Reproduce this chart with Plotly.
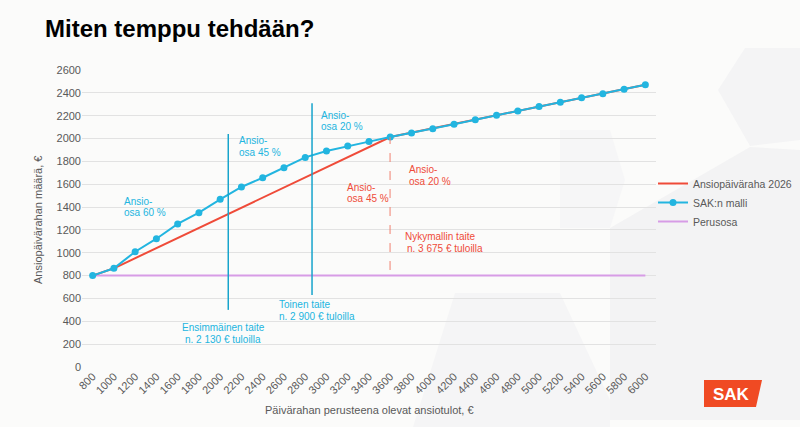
import plotly.graph_objects as go

# ---------------- data ----------------
income = [800, 1000, 1200, 1400, 1600, 1800, 2000, 2200, 2400, 2600, 2800, 3000, 3200,
          3400, 3600, 3800, 4000, 4200, 4400, 4600, 4800, 5000, 5200, 5400, 5600, 5800, 6000]
sak_model = [800, 864, 1009, 1123, 1252, 1351, 1468, 1576, 1657, 1745, 1835, 1891, 1935,
             1973, 2013, 2049, 2086, 2125, 2165, 2203, 2242, 2280, 2318, 2356, 2393, 2431, 2471]
current_x = [800, 1000, 3600, 6000]
current_y = [800, 864, 2013, 2471]
basic_x = [800, 6000]
basic_y = [800, 800]

# break point markers (x, y_bottom, y_top)
sak_breaks = [(2076, 500, 2040), (2864, 630, 2308)]
current_break = (3598, 849, 2013)

tick_vals = list(range(800, 6001, 200))
y_ticks = list(range(0, 2601, 200))

FONT = "Liberation Sans"
GRAY = "#595959"
BLUE = "#22b5e0"
BLUE_DARK = "#17a4cc"
RED = "#ef4b39"
PURPLE = "#d79ce6"

# plot area in pixels (for decorative paper shapes)
L, R, T, B = 82, 656, 70, 367
W, H = 800, 427


def px(x):
    return (x - L) / (R - L)


def py(y):
    return (B - y) / (B - T)


fig = go.Figure()

fig.add_trace(go.Scatter(x=basic_x, y=basic_y, mode="lines", name="Perusosa",
                         line=dict(color=PURPLE, width=2), legendrank=3))
fig.add_trace(go.Scatter(x=current_x, y=current_y, mode="lines", name="Ansiopäiväraha 2026",
                         line=dict(color=RED, width=2), legendrank=1))
fig.add_trace(go.Scatter(x=income, y=sak_model, mode="lines+markers", name="SAK:n malli",
                         line=dict(color=BLUE, width=2),
                         marker=dict(color=BLUE, size=7), legendrank=2))

shapes = []


def poly(points, color):
    path = "M " + " L ".join(f"{px(a):.4f},{py(b):.4f}" for a, b in points) + " Z"
    return dict(type="path", xref="paper", yref="paper", path=path,
                fillcolor=color, line=dict(width=0), layer="below")


# decorative background polygons
shapes.append(poly([(745, 48), (800, 48), (800, 140), (750, 146), (718, 90)], "#f4f4f5"))
shapes.append(poly([(610, 228), (750, 147), (800, 150), (800, 420), (610, 420)], "#f3f3f4"))
shapes.append(poly([(560, 130), (610, 130), (625, 180), (610, 228), (560, 228)], "#f6f6f7"))
shapes.append(poly([(413, 427), (455, 293), (560, 293), (610, 400), (610, 427)], "#f5f5f6"))

for xb, y0, y1 in sak_breaks:
    shapes.append(dict(type="line", xref="x", yref="y", x0=xb, x1=xb, y0=y0, y1=y1,
                       line=dict(color=BLUE_DARK, width=1.5)))
xb, y0, y1 = current_break
shapes.append(dict(type="line", xref="x", yref="y", x0=xb, x1=xb, y0=y0, y1=y1,
                   line=dict(color="#f08070", width=1, dash="dash")))

# SAK logo
shapes.append(dict(type="path", xref="paper", yref="paper",
                   path=(f"M {px(704):.4f},{py(380):.4f} L {px(762):.4f},{py(380):.4f} "
                         f"L {px(756):.4f},{py(407):.4f} L {px(704):.4f},{py(407):.4f} Z"),
                   fillcolor="#f04a23", line=dict(width=0)))

annotations = []


def label(text, x, y, color, anchor="left", size=10):
    annotations.append(dict(text=text, x=x, y=y, xref="x", yref="y", showarrow=False,
                            xanchor=anchor, yanchor="middle",
                            font=dict(family=FONT, size=size, color=color)))


label("Ansio-", 1079, 1447, BLUE)
label("osa 60 %", 1079, 1351, BLUE)
label("Ansio-", 2160, 1987, BLUE)
label("osa 45 %", 2160, 1876, BLUE)
label("Ansio-", 2931, 2206, BLUE)
label("osa 20 %", 2931, 2104, BLUE)
label("Ensimmäinen taite", 2028, 344, BLUE, "center")
label("n. 2 130 € tuloilla", 2028, 242, BLUE, "center")
label("Toinen taite", 2536, 551, BLUE)
label("n. 2 900 € tuloilla", 2536, 446, BLUE)
label("Ansio-", 3176, 1573, RED)
label("osa 45 %", 3176, 1477, RED)
label("Ansio-", 3759, 1725, RED)
label("osa 20 %", 3759, 1622, RED)
label("Nykymallin taite", 3718, 1141, RED)
label("n. 3 675 € tuloilla", 3740, 1039, RED)

# axis titles
annotations.append(dict(text="Päivärahan perusteena olevat ansiotulot, €", xref="paper", yref="paper",
                        x=px(369), y=py(410), showarrow=False, xanchor="center", yanchor="middle",
                        font=dict(family=FONT, size=11, color=GRAY)))
annotations.append(dict(text="Ansiopäivärahan määrä, €", xref="paper", yref="paper",
                        x=px(38), y=py(220), showarrow=False, textangle=-90,
                        xanchor="center", yanchor="middle",
                        font=dict(family=FONT, size=11, color=GRAY)))
annotations.append(dict(text="<b>SAK</b>", xref="paper", yref="paper",
                        x=px(731), y=py(394), showarrow=False, xanchor="center", yanchor="middle",
                        font=dict(family=FONT, size=17, color="white")))

fig.update_layout(
    width=W, height=H,
    margin=dict(l=L, r=W - R, t=T, b=H - B, autoexpand=False),
    paper_bgcolor="#fbfbfa",
    plot_bgcolor="rgba(0,0,0,0)",
    title=dict(text="<b>Miten temppu tehdään?</b>", x=45 / W, xanchor="left",
               y=1 - 29 / H, yanchor="middle",
               font=dict(family=FONT, size=24, color="#000000")),
    xaxis=dict(range=[700, 6100], tickvals=tick_vals, ticktext=[str(v) for v in tick_vals],
               tickangle=-45, showgrid=False, zeroline=False, showline=False,
               tickfont=dict(family=FONT, size=11, color=GRAY), ticks=""),
    yaxis=dict(range=[0, 2600], tickvals=y_ticks, showgrid=True, gridcolor="#e2e2e2",
               gridwidth=1, zeroline=False, showline=False, ticks="",
               tickfont=dict(family=FONT, size=11, color=GRAY)),
    legend=dict(x=px(653), y=py(169), xanchor="left", yanchor="top",
                bgcolor="rgba(0,0,0,0)", itemwidth=30, tracegroupgap=0,
                font=dict(family=FONT, size=10.5, color=GRAY)),
    shapes=shapes,
    annotations=annotations,
    showlegend=True,
)

fig.write_html("out.html")
